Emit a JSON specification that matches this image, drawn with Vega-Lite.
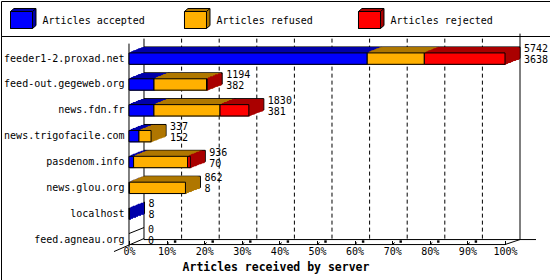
{
  "$schema": "https://vega.github.io/schema/vega-lite/v6.json",
  "padding": 0,
  "background": "white",
  "config": {"view": {"stroke": "black", "strokeWidth": 1}, "font": "DejaVu Sans Mono", "legend": {"disable": true}},
  "datasets": {
    "bars": [
      {"server": "feeder1-2.proxad.net", "series": "Articles accepted", "value": 3638},
      {"server": "feeder1-2.proxad.net", "series": "Articles refused", "value": 872},
      {"server": "feeder1-2.proxad.net", "series": "Articles rejected", "value": 1232},
      {"server": "feed-out.gegeweb.org", "series": "Articles accepted", "value": 382},
      {"server": "feed-out.gegeweb.org", "series": "Articles refused", "value": 802},
      {"server": "feed-out.gegeweb.org", "series": "Articles rejected", "value": 10},
      {"server": "news.fdn.fr", "series": "Articles accepted", "value": 381},
      {"server": "news.fdn.fr", "series": "Articles refused", "value": 1009},
      {"server": "news.fdn.fr", "series": "Articles rejected", "value": 440},
      {"server": "news.trigofacile.com", "series": "Articles accepted", "value": 152},
      {"server": "news.trigofacile.com", "series": "Articles refused", "value": 185},
      {"server": "news.trigofacile.com", "series": "Articles rejected", "value": 0},
      {"server": "pasdenom.info", "series": "Articles accepted", "value": 70},
      {"server": "pasdenom.info", "series": "Articles refused", "value": 826},
      {"server": "pasdenom.info", "series": "Articles rejected", "value": 40},
      {"server": "news.glou.org", "series": "Articles accepted", "value": 8},
      {"server": "news.glou.org", "series": "Articles refused", "value": 854},
      {"server": "news.glou.org", "series": "Articles rejected", "value": 0},
      {"server": "localhost", "series": "Articles accepted", "value": 8},
      {"server": "localhost", "series": "Articles refused", "value": 0},
      {"server": "localhost", "series": "Articles rejected", "value": 0},
      {"server": "feed.agneau.org", "series": "Articles accepted", "value": 0},
      {"server": "feed.agneau.org", "series": "Articles refused", "value": 0},
      {"server": "feed.agneau.org", "series": "Articles rejected", "value": 0}
    ],
    "servers": [
      {"server": "feeder1-2.proxad.net", "total": 5742, "accepted": 3638},
      {"server": "feed-out.gegeweb.org", "total": 1194, "accepted": 382},
      {"server": "news.fdn.fr", "total": 1830, "accepted": 381},
      {"server": "news.trigofacile.com", "total": 337, "accepted": 152},
      {"server": "pasdenom.info", "total": 936, "accepted": 70},
      {"server": "news.glou.org", "total": 862, "accepted": 8},
      {"server": "localhost", "total": 8, "accepted": 8},
      {"server": "feed.agneau.org", "total": 0, "accepted": 0}
    ],
    "grid": [
      {"v": 574.2}, {"v": 1148.4}, {"v": 1722.6}, {"v": 2296.8}, {"v": 2871},
      {"v": 3445.2}, {"v": 4019.4}, {"v": 4593.6}, {"v": 5167.8}
    ],
    "one": [{}]
  },
  "spacing": 0,
  "bounds": "flush",
  "vconcat": [
    {
      "width": 549,
      "height": 35,
      "data": {"values": [{"series": "Articles accepted"}, {"series": "Articles refused"}, {"series": "Articles rejected"}]},
      "encoding": {
        "x": {"field": "series", "type": "nominal", "bandPosition": 0,
              "scale": {"type": "band", "paddingInner": 0, "paddingOuter": 0.0776, "align": 0}, "axis": null}
      },
      "layer": [
        {
          "mark": {"type": "point", "shape": "M-1,-0.773L-0.682,-1.046L1.318,-1.046L1.318,0.5L1,0.773L-1,0.773Z M1,-0.773L1.318,-1.046",
                   "size": 484, "filled": true, "opacity": 1, "stroke": "black", "strokeWidth": 1, "xOffset": 20.5, "yOffset": 1.5},
          "encoding": {"fill": {"field": "series", "type": "nominal",
                                "scale": {"domain": ["Articles accepted", "Articles refused", "Articles rejected"], "range": ["#0000aa", "#b07800", "#aa0000"]}}}
        },
        {
          "mark": {"type": "point", "shape": "M-1,-0.773H1V0.773H-1Z",
                   "size": 484, "filled": true, "opacity": 1, "stroke": "black", "strokeWidth": 1, "xOffset": 20.5, "yOffset": 1.5},
          "encoding": {"color": {"field": "series", "type": "nominal",
                                 "scale": {"domain": ["Articles accepted", "Articles refused", "Articles rejected"], "range": ["#0000ff", "#ffb000", "#ff0000"]}}}
        },
        {
          "mark": {"type": "text", "align": "left", "baseline": "middle", "xOffset": 41.5, "yOffset": 2, "fontSize": 10, "font": "DejaVu Sans Mono", "color": "black"},
          "encoding": {"text": {"field": "series"}}
        }
      ]
    },
    {
      "width": 549,
      "height": 244,
      "layer": [
        {
          "data": {"name": "grid"},
          "mark": {"type": "rule", "color": "black", "strokeWidth": 1, "strokeDash": [4, 3], "xOffset": 15, "yOffset": -20},
          "encoding": {
            "x": {"field": "v", "type": "quantitative",
                  "scale": {"domain": [-1954.7, 6429.2], "nice": false, "zero": false},
                  "axis": {"orient": "bottom", "offset": -39.5, "domain": false, "grid": false,
                           "values": [0, 574.2, 1148.4, 1722.6, 2296.8, 2871, 3445.2, 4019.4, 4593.6, 5167.8, 5742],
                           "labelExpr": "round(datum.value / 57.42) + '%'",
                           "tickSize": 4, "tickColor": "black", "labelFont": "DejaVu Sans Mono", "labelFontSize": 10,
                           "labelColor": "black", "labelPadding": 2, "labelFlush": false, "labelOverlap": false,
                           "title": "Articles received by server", "titleFont": "DejaVu Sans Mono", "titleFontWeight": "bold",
                           "titleFontSize": 11.5, "titleColor": "black", "titlePadding": 5}},
            "y": {"datum": "feeder1-2.proxad.net", "type": "nominal",
                  "scale": {"domain": ["feeder1-2.proxad.net", "feed-out.gegeweb.org", "news.fdn.fr", "news.trigofacile.com", "pasdenom.info", "news.glou.org", "localhost", "feed.agneau.org"],
                            "paddingInner": 0.56, "paddingOuter": 1.16, "align": 0.3276},
                  "axis": {"orient": "left", "offset": -128, "domain": false, "ticks": false, "tickSize": 0, "grid": false,
                           "labelPadding": 5, "labelFont": "DejaVu Sans Mono", "labelFontSize": 10, "labelColor": "black", "title": null}},
            "y2": {"datum": "feed.agneau.org"}
          }
        },
        {
          "data": {"name": "grid"},
          "mark": {"type": "rule", "color": "black", "strokeWidth": 1, "x2Offset": 2.5, "yOffset": 5, "y2Offset": 3},
          "encoding": {"x": {"field": "v", "type": "quantitative"}, "x2": {"field": "v"}, "y": {"datum": "feed.agneau.org", "type": "nominal"}, "y2": {"datum": "feed.agneau.org"}}
        },
        {
          "data": {"name": "grid"},
          "mark": {"type": "point", "shape": "square", "size": 6, "filled": true, "opacity": 1, "color": "black", "xOffset": 8.5, "yOffset": 2},
          "encoding": {"x": {"field": "v", "type": "quantitative"}, "y": {"datum": "feed.agneau.org", "type": "nominal"}}
        },
        {
          "data": {"name": "one"},
          "mark": {"type": "rule", "color": "black", "strokeWidth": 1, "xOffset": 15, "x2Offset": 31},
          "encoding": {"x": {"datum": 0, "type": "quantitative"}, "x2": {"datum": 5742}, "y": {"datum": "feed.agneau.org", "type": "nominal"}}
        },
        {
          "data": {"name": "one"},
          "mark": {"type": "rule", "color": "black", "strokeWidth": 1, "yOffset": 5},
          "encoding": {"x": {"datum": 0, "type": "quantitative"}, "x2": {"datum": 5742}, "y": {"datum": "feed.agneau.org", "type": "nominal"}}
        },
        {
          "data": {"name": "one"},
          "mark": {"type": "rule", "color": "black", "strokeWidth": 1, "x2Offset": 15, "yOffset": 5, "y2Offset": 0},
          "encoding": {"x": {"datum": 5742, "type": "quantitative"}, "x2": {"datum": 5742}, "y": {"datum": "feed.agneau.org", "type": "nominal"}, "y2": {"datum": "feed.agneau.org"}}
        },
        {
          "data": {"name": "one"},
          "mark": {"type": "rule", "color": "black", "strokeWidth": 1, "xOffset": -15, "x2Offset": 15, "yOffset": 12, "y2Offset": -1},
          "encoding": {"x": {"datum": 0, "type": "quantitative"}, "x2": {"datum": 0}, "y": {"datum": "feed.agneau.org", "type": "nominal"}, "y2": {"datum": "feed.agneau.org"}}
        },
        {
          "data": {"name": "one"},
          "mark": {"type": "rule", "color": "black", "strokeWidth": 1, "yOffset": -15, "y2Offset": 8},
          "encoding": {"x": {"datum": 0, "type": "quantitative"}, "y": {"datum": "feeder1-2.proxad.net", "type": "nominal"}, "y2": {"datum": "feed.agneau.org"}}
        },
        {
          "data": {"name": "one"},
          "mark": {"type": "rule", "color": "black", "strokeWidth": 1, "xOffset": 15, "yOffset": -20},
          "encoding": {"x": {"datum": 0, "type": "quantitative"}, "y": {"datum": "feeder1-2.proxad.net", "type": "nominal"}, "y2": {"datum": "feed.agneau.org"}}
        },
        {
          "data": {"name": "one"},
          "mark": {"type": "rule", "color": "black", "strokeWidth": 1, "xOffset": 15, "yOffset": -25},
          "encoding": {"x": {"datum": 5742, "type": "quantitative"}, "y": {"datum": "feeder1-2.proxad.net", "type": "nominal"}, "y2": {"datum": "feed.agneau.org"}}
        },
        {
          "data": {"name": "one"},
          "mark": {"type": "rule", "color": "black", "strokeWidth": 1, "x2Offset": 15, "yOffset": -6, "y2Offset": -12},
          "encoding": {"x": {"datum": 0, "type": "quantitative"}, "x2": {"datum": 0}, "y": {"datum": "feed.agneau.org", "type": "nominal"}, "y2": {"datum": "feed.agneau.org"}}
        },
        {
          "data": {"name": "bars"}, "transform": [{"filter": "datum.value > 0"}],
          "mark": {"type": "bar", "stroke": "black", "strokeWidth": 1, "xOffset": 15, "x2Offset": 15, "yOffset": -6},
          "encoding": {
            "x": {"field": "value", "type": "quantitative", "stack": "zero"},
            "y": {"field": "server", "type": "nominal"},
            "fill": {"field": "series", "type": "nominal",
                     "scale": {"domain": ["Articles accepted", "Articles refused", "Articles rejected"], "range": ["#0000aa", "#b07800", "#aa0000"]}}
          }
        },
        {"data": {"name": "bars"}, "transform": [{"filter": "datum.value > 0"}],
         "mark": {"type": "bar", "strokeWidth": 1, "xOffset": 14, "x2Offset": 14, "yOffset": -5},
         "encoding": {"x": {"field": "value", "type": "quantitative", "stack": "zero"}, "y": {"field": "server", "type": "nominal"},
                      "fill": {"field": "series", "type": "nominal"},
                      "stroke": {"field": "series", "type": "nominal", "scale": {"domain": ["Articles accepted", "Articles refused", "Articles rejected"], "range": ["#0000aa", "#b07800", "#aa0000"]}}}},
        {"data": {"name": "bars"}, "transform": [{"filter": "datum.value > 0"}],
         "mark": {"type": "bar", "strokeWidth": 1, "xOffset": 13, "x2Offset": 13, "yOffset": -5},
         "encoding": {"x": {"field": "value", "type": "quantitative", "stack": "zero"}, "y": {"field": "server", "type": "nominal"},
                      "fill": {"field": "series", "type": "nominal"}, "stroke": {"field": "series", "type": "nominal"}}},
        {"data": {"name": "bars"}, "transform": [{"filter": "datum.value > 0"}],
         "mark": {"type": "bar", "strokeWidth": 1, "xOffset": 12, "x2Offset": 12, "yOffset": -5},
         "encoding": {"x": {"field": "value", "type": "quantitative", "stack": "zero"}, "y": {"field": "server", "type": "nominal"},
                      "fill": {"field": "series", "type": "nominal"}, "stroke": {"field": "series", "type": "nominal"}}},
        {"data": {"name": "bars"}, "transform": [{"filter": "datum.value > 0"}],
         "mark": {"type": "bar", "strokeWidth": 1, "xOffset": 11, "x2Offset": 11, "yOffset": -4},
         "encoding": {"x": {"field": "value", "type": "quantitative", "stack": "zero"}, "y": {"field": "server", "type": "nominal"},
                      "fill": {"field": "series", "type": "nominal"}, "stroke": {"field": "series", "type": "nominal"}}},
        {"data": {"name": "bars"}, "transform": [{"filter": "datum.value > 0"}],
         "mark": {"type": "bar", "strokeWidth": 1, "xOffset": 10, "x2Offset": 10, "yOffset": -4},
         "encoding": {"x": {"field": "value", "type": "quantitative", "stack": "zero"}, "y": {"field": "server", "type": "nominal"},
                      "fill": {"field": "series", "type": "nominal"}, "stroke": {"field": "series", "type": "nominal"}}},
        {"data": {"name": "bars"}, "transform": [{"filter": "datum.value > 0"}],
         "mark": {"type": "bar", "strokeWidth": 1, "xOffset": 9, "x2Offset": 9, "yOffset": -4},
         "encoding": {"x": {"field": "value", "type": "quantitative", "stack": "zero"}, "y": {"field": "server", "type": "nominal"},
                      "fill": {"field": "series", "type": "nominal"}, "stroke": {"field": "series", "type": "nominal"}}},
        {"data": {"name": "bars"}, "transform": [{"filter": "datum.value > 0"}],
         "mark": {"type": "bar", "strokeWidth": 1, "xOffset": 8, "x2Offset": 8, "yOffset": -3},
         "encoding": {"x": {"field": "value", "type": "quantitative", "stack": "zero"}, "y": {"field": "server", "type": "nominal"},
                      "fill": {"field": "series", "type": "nominal"}, "stroke": {"field": "series", "type": "nominal"}}},
        {"data": {"name": "bars"}, "transform": [{"filter": "datum.value > 0"}],
         "mark": {"type": "bar", "strokeWidth": 1, "xOffset": 7, "x2Offset": 7, "yOffset": -3},
         "encoding": {"x": {"field": "value", "type": "quantitative", "stack": "zero"}, "y": {"field": "server", "type": "nominal"},
                      "fill": {"field": "series", "type": "nominal"}, "stroke": {"field": "series", "type": "nominal"}}},
        {"data": {"name": "bars"}, "transform": [{"filter": "datum.value > 0"}],
         "mark": {"type": "bar", "strokeWidth": 1, "xOffset": 6, "x2Offset": 6, "yOffset": -2},
         "encoding": {"x": {"field": "value", "type": "quantitative", "stack": "zero"}, "y": {"field": "server", "type": "nominal"},
                      "fill": {"field": "series", "type": "nominal"}, "stroke": {"field": "series", "type": "nominal"}}},
        {"data": {"name": "bars"}, "transform": [{"filter": "datum.value > 0"}],
         "mark": {"type": "bar", "strokeWidth": 1, "xOffset": 5, "x2Offset": 5, "yOffset": -2},
         "encoding": {"x": {"field": "value", "type": "quantitative", "stack": "zero"}, "y": {"field": "server", "type": "nominal"},
                      "fill": {"field": "series", "type": "nominal"}, "stroke": {"field": "series", "type": "nominal"}}},
        {"data": {"name": "bars"}, "transform": [{"filter": "datum.value > 0"}],
         "mark": {"type": "bar", "strokeWidth": 1, "xOffset": 4, "x2Offset": 4, "yOffset": -2},
         "encoding": {"x": {"field": "value", "type": "quantitative", "stack": "zero"}, "y": {"field": "server", "type": "nominal"},
                      "fill": {"field": "series", "type": "nominal"}, "stroke": {"field": "series", "type": "nominal"}}},
        {"data": {"name": "bars"}, "transform": [{"filter": "datum.value > 0"}],
         "mark": {"type": "bar", "strokeWidth": 1, "xOffset": 3, "x2Offset": 3, "yOffset": -1},
         "encoding": {"x": {"field": "value", "type": "quantitative", "stack": "zero"}, "y": {"field": "server", "type": "nominal"},
                      "fill": {"field": "series", "type": "nominal"}, "stroke": {"field": "series", "type": "nominal"}}},
        {"data": {"name": "bars"}, "transform": [{"filter": "datum.value > 0"}],
         "mark": {"type": "bar", "strokeWidth": 1, "xOffset": 2, "x2Offset": 2, "yOffset": -1},
         "encoding": {"x": {"field": "value", "type": "quantitative", "stack": "zero"}, "y": {"field": "server", "type": "nominal"},
                      "fill": {"field": "series", "type": "nominal"}, "stroke": {"field": "series", "type": "nominal"}}},
        {"data": {"name": "bars"}, "transform": [{"filter": "datum.value > 0"}],
         "mark": {"type": "bar", "strokeWidth": 1, "xOffset": 1, "x2Offset": 1, "yOffset": 0},
         "encoding": {"x": {"field": "value", "type": "quantitative", "stack": "zero"}, "y": {"field": "server", "type": "nominal"},
                      "fill": {"field": "series", "type": "nominal"}, "stroke": {"field": "series", "type": "nominal"}}},
        {
          "data": {"name": "bars"}, "transform": [{"filter": "datum.value > 0"}],
          "mark": {"type": "bar", "stroke": "black", "strokeWidth": 1},
          "encoding": {
            "x": {"field": "value", "type": "quantitative", "stack": "zero"},
            "y": {"field": "server", "type": "nominal"},
            "color": {"field": "series", "type": "nominal",
                      "scale": {"domain": ["Articles accepted", "Articles refused", "Articles rejected"], "range": ["#0000ff", "#ffb000", "#ff0000"]}}
          }
        },
        {
          "data": {"name": "servers"},
          "mark": {"type": "text", "align": "left", "baseline": "middle", "xOffset": 19, "yOffset": -9.5, "fontSize": 10, "font": "DejaVu Sans Mono", "color": "black"},
          "encoding": {"x": {"field": "total", "type": "quantitative"}, "y": {"field": "server", "type": "nominal"}, "text": {"field": "total", "type": "quantitative"}}
        },
        {
          "data": {"name": "servers"},
          "mark": {"type": "text", "align": "left", "baseline": "middle", "xOffset": 19, "yOffset": 1.5, "fontSize": 10, "font": "DejaVu Sans Mono", "color": "black"},
          "encoding": {"x": {"field": "total", "type": "quantitative"}, "y": {"field": "server", "type": "nominal"}, "text": {"field": "accepted", "type": "quantitative"}}
        }
      ]
    }
  ]
}
